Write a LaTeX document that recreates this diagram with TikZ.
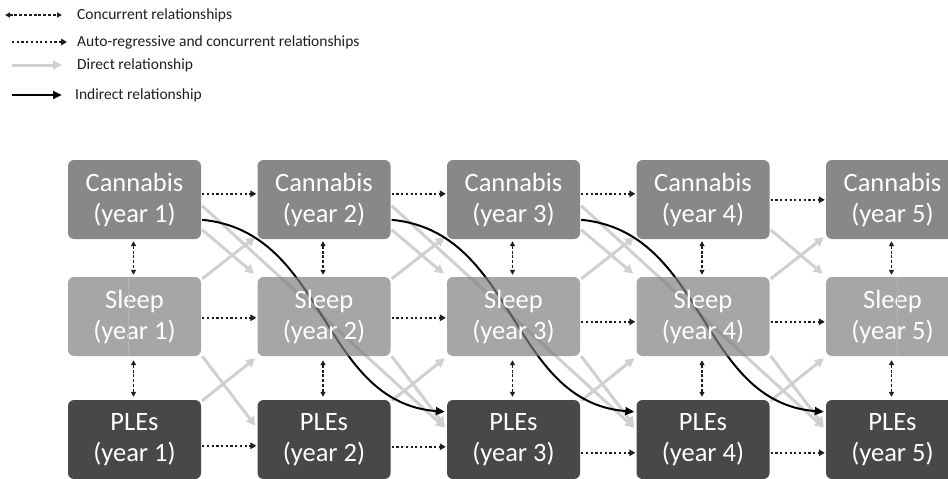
\documentclass[tikz,border=0pt]{standalone}
\usepackage{fontspec}
\setmainfont{Carlito}
\usetikzlibrary{arrows.meta,calc}
\pgfdeclarelayer{bg}
\pgfsetlayers{bg,main}
\definecolor{cannc}{HTML}{88888B}
\definecolor{sleepc}{HTML}{808082}
\definecolor{plec}{HTML}{48484B}
\definecolor{grayarr}{HTML}{D0D0D0}
\definecolor{seam}{HTML}{B4B4B6}
\definecolor{ink}{HTML}{1E1E1E}
\begin{document}
\begin{tikzpicture}[x=1pt,y=-1pt,
  box/.style={rounded corners=6pt, minimum width=133pt, minimum height=79pt, inner sep=0pt, align=center, text=white, font=\fontsize{26.5}{31}\selectfont},
  cbox/.style={box, fill=cannc},
  sbox/.style={box, fill=sleepc, fill opacity=0.7, text opacity=1},
  pbox/.style={box, fill=plec},
  direct/.style={draw=grayarr, line width=3pt, -{Triangle[length=9pt,width=9pt]}},
  indirect/.style={draw=black, line width=2pt, -{Triangle[length=9pt,width=8pt]}},
  autoreg/.style={draw=ink, line width=2.2pt, dash pattern=on 2.2pt off 2.5pt, -{Triangle[length=6pt,width=6.5pt]}},
  concur/.style={draw=ink, line width=1.3pt, dash pattern=on 3pt off 1.8pt, {Triangle[length=5pt,width=5pt]}-{Triangle[length=5pt,width=5pt]}},
  legtext/.style={anchor=west, inner sep=0pt, font=\fontsize{15.5}{18}\selectfont, text=ink}
]
\useasboundingbox (0,0) rectangle (948,479);

% boxes
\foreach \i/\x in {1/134.5,2/324,3/513.5,4/703,5/892.5} {
  \node[cbox] (c\i) at (\x,199.5) {Cannabis\\(year \i)};
  \node[sbox] (s\i) at (\x,316.5) {Sleep\\(year \i)};
  \node[pbox] (p\i) at (\x,439.5) {PLEs\\(year \i)};
}
\draw[seam, line width=0.6pt] ($(s1.north)+(-6.5,0)$) -- ($(s1.south)+(-6.5,0)$);
\draw[seam, line width=0.6pt] ($(s5.north)+(4.5,0)$) -- ($(s5.south)+(4.5,0)$);

% direct and indirect relationships (behind the boxes)
\begin{pgfonlayer}{bg}
\foreach \i/\j in {1/2,2/3,3/4,4/5} {
  \draw[direct] ($(c\i.north east)+(1,70)$) -- ($(s\j.north west)+(-3,-3)$);
  \draw[direct] ($(s\i.north east)+(1,2)$) -- ($(c\j.south west)+(-2,-2)$);
  \draw[direct] ($(s\i.south east)+(1,0)$) -- ($(p\j.north west)+(-2,26)$);
  \draw[direct] ($(p\i.north east)+(1,1)$) -- ($(s\j.south west)+(-2,2)$);
}
\foreach \i/\k in {1/3,2/4,3/5} {
  \draw[direct] ($(c\i.north east)+(1,46)$) -- ($(p\k.north west)+(-2,28)$);
}
\foreach \i/\k in {1/3,2/4,3/5} {
  \draw[indirect] ($(c\i.north east)+(1,60)$) .. controls +(125,12) and +(-125,-10) .. ($(p\k.north west)+(-2,12)$);
}
\end{pgfonlayer}

% auto-regressive relationships
\foreach \i/\j/\a/\b/\c in {1/2/34/41/46,2/3/34/41/47,3/4/34/45/53,4/5/40/45/53} {
  \draw[autoreg] ($(c\i.north east)+(1,\a)$) -- ($(c\j.north west)+(-1,\a)$);
  \draw[autoreg] ($(s\i.north east)+(1,\b)$) -- ($(s\j.north west)+(-1,\b)$);
  \draw[autoreg] ($(p\i.north east)+(1,\c)$) -- ($(p\j.north west)+(-1,\c)$);
}

% concurrent relationships
\foreach \i in {1,...,5} {
  \draw[concur] ($(c\i.south)+(-1,2)$) -- ($(s\i.north)+(-1,-2)$);
  \draw[concur] ($(s\i.south)+(-1,4)$) -- ($(p\i.north)+(-1,-3)$);
}

% legend
\coordinate (l1a) at (5,15);  \coordinate (l1b) at (62,15);
\coordinate (l2a) at (12,42); \coordinate (l2b) at (67,42);
\coordinate (l3a) at (12,65); \coordinate (l3b) at (62,65);
\coordinate (l4a) at (12,95); \coordinate (l4b) at (62,95);
\draw[concur] (l1a) -- (l1b);
\draw[autoreg] (l2a) -- (l2b);
\draw[direct] (l3a) -- (l3b);
\draw[indirect, line width=2.5pt] (l4a) -- (l4b);
\node[legtext] (t1) at (77,15) {Concurrent relationships};
\node[legtext] (t2) at (77,42) {Auto-regressive and concurrent relationships};
\node[legtext] (t3) at (77,65) {Direct relationship};
\node[legtext] (t4) at (75,95) {Indirect relationship};
\end{tikzpicture}
\end{document}
